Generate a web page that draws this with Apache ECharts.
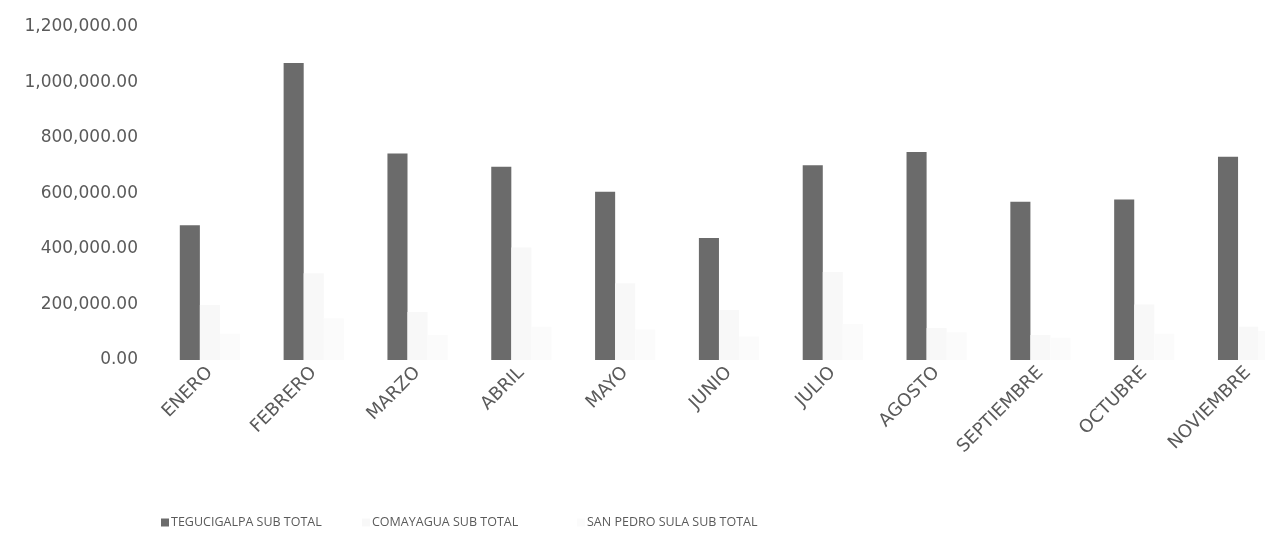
<!DOCTYPE html>
<html>
<head>
<meta charset="utf-8">
<script src="https://cdn.jsdelivr.net/npm/echarts@6/dist/echarts.min.js"></script>
<style>
html,body{margin:0;padding:0;background:#fff;overflow:hidden;width:1265px;height:547px;}
#chart{width:1310px;height:547px;}
</style>
</head>
<body>
<div id="chart"></div>
<script>
const categories = ['ENERO','FEBRERO','MARZO','ABRIL','MAYO','JUNIO','JULIO','AGOSTO','SEPTIEMBRE','OCTUBRE','NOVIEMBRE'];
const seriesNames = ['TEGUCIGALPA SUB TOTAL','COMAYAGUA SUB TOTAL','SAN PEDRO SULA SUB TOTAL'];
const tegucigalpa = [486000,1070000,744000,696000,606000,440000,702000,750000,570000,578000,732000];
const comayagua = [198000,313000,173000,405000,277000,180000,317000,115000,90000,200000,120000];
const sanPedroSula = [95000,150000,90000,120000,110000,85000,130000,100000,80000,95000,105000];
const yTicks = {min:0, max:1200000, interval:200000};

const fmt = v => v.toLocaleString('en-US',{minimumFractionDigits:2,maximumFractionDigits:2});
const textColor = '#5a5a5a';
const font = "'DejaVu Sans', 'Liberation Sans', sans-serif";
const legendFont = "'Open Sans', 'Liberation Sans', sans-serif";

const chart = echarts.init(document.getElementById('chart'), null, {renderer:'canvas'});
const legendBase = {
  bottom: 13, orient:'horizontal', icon:'rect', itemWidth:8, itemHeight:8, itemGap:4,
  textStyle:{color:textColor, fontFamily:legendFont, fontSize:12.5, padding:[0,0,0,-3]}
};
chart.setOption({
  animation:false,
  backgroundColor:'#ffffff',
  color:['#6b6b6b','#f8f8f8','#fbfbfb'],
  grid:{left:158, top:27, right:10, height:333, containLabel:false},
  legend:[
    Object.assign({}, legendBase, {left:156, data:[seriesNames[0]]}),
    Object.assign({}, legendBase, {left:357, data:[seriesNames[1]]}),
    Object.assign({}, legendBase, {left:572, data:[seriesNames[2]]})
  ],
  xAxis:{
    type:'category', data:categories,
    axisLine:{show:false}, axisTick:{show:false},
    axisLabel:{rotate:45, margin:10, color:textColor, fontFamily:font, fontSize:18, interval:0}
  },
  yAxis:{
    type:'value', min:yTicks.min, max:yTicks.max, interval:yTicks.interval,
    axisLine:{show:false}, axisTick:{show:false}, splitLine:{show:false},
    axisLabel:{margin:20, color:textColor, fontFamily:font, fontSize:17, formatter:fmt}
  },
  series:[
    {name:seriesNames[0], type:'bar', data:tegucigalpa, barGap:'0%', barCategoryGap:'42%'},
    {name:seriesNames[1], type:'bar', data:comayagua, barGap:'0%', barCategoryGap:'42%'},
    {name:seriesNames[2], type:'bar', data:sanPedroSula, barGap:'0%', barCategoryGap:'42%'}
  ]
});
</script>
</body>
</html>
